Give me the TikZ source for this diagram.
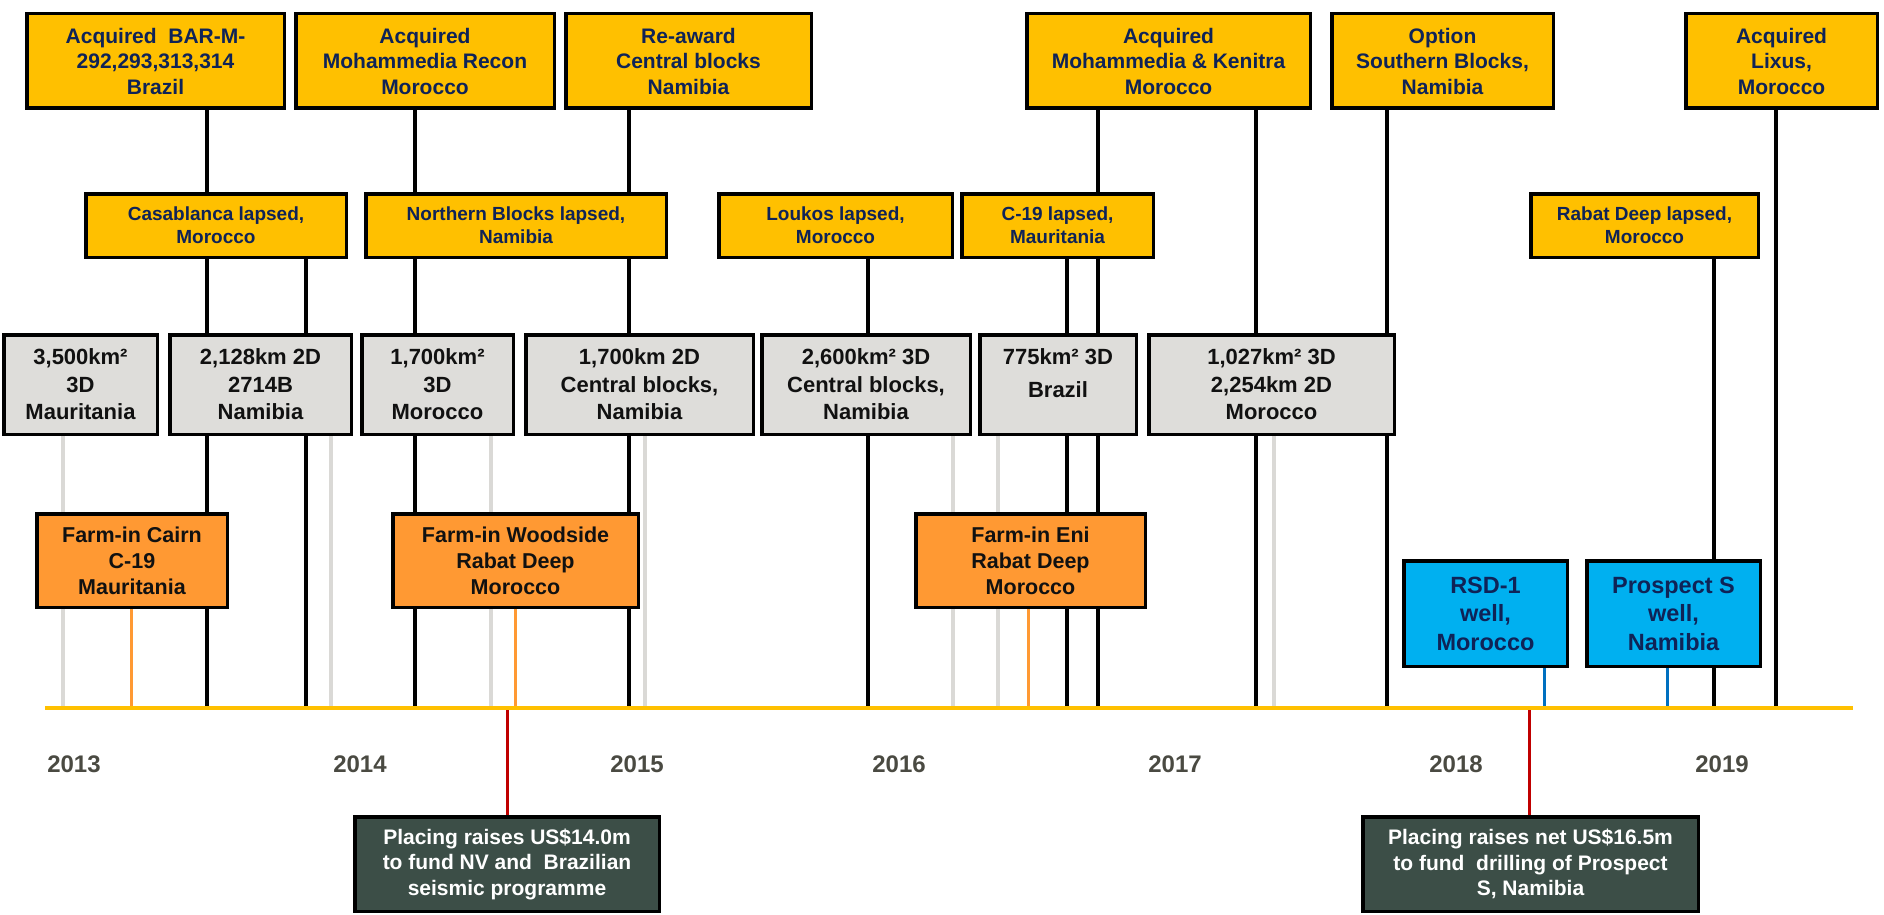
\documentclass[tikz,border=0pt]{standalone}
\usepackage{fontspec}
\setmainfont{Liberation Sans}
\definecolor{gold}{HTML}{FFC000}
\definecolor{navy}{HTML}{0F2357}
\definecolor{greyfill}{HTML}{DEDDDA}
\definecolor{orangefill}{HTML}{FF9933}
\definecolor{bluefill}{HTML}{00B0F0}
\definecolor{darkfill}{HTML}{3C4E47}
\definecolor{txtblack}{HTML}{111111}
\definecolor{lgline}{HTML}{DAD9D6}
\definecolor{orline}{HTML}{FF9933}
\definecolor{blline}{HTML}{0070C0}
\definecolor{redline}{HTML}{C00000}
\definecolor{yeargrey}{HTML}{4A4A42}
\pgfdeclarelayer{background}
\pgfsetlayers{background,main}
\newcommand\mkbox[7]{\node[#2,minimum width={#5-#3-3.5},minimum height={#6-#4-3.5}] (#1) at ({(#3+#5)/2},{(#4+#6)/2}) {#7};}
\begin{document}
\begin{tikzpicture}[x=1pt,y=-1pt,
  box/.style={draw=black,line width=3.5pt,inner sep=0pt,align=center},
  topbox/.style={box,fill=gold,text=navy,font=\bfseries\fontsize{21}{25.5}\selectfont},
  lapbox/.style={box,fill=gold,text=navy,font=\bfseries\fontsize{19}{23}\selectfont},
  greybox/.style={box,fill=greyfill,text=txtblack,font=\bfseries\fontsize{22}{27.5}\selectfont},
  orbox/.style={box,fill=orangefill,text=txtblack,font=\bfseries\fontsize{21.5}{26}\selectfont},
  bluebox/.style={box,fill=bluefill,text=navy,font=\bfseries\fontsize{23.5}{28.5}\selectfont},
  darkbox/.style={box,fill=darkfill,text=white,font=\bfseries\fontsize{21}{25.5}\selectfont},
  blkline/.style={draw=black,line width=3.2pt},
  greyline/.style={draw=lgline,line width=3.2pt},
  orangeline/.style={draw=orline,line width=3pt},
  blueline/.style={draw=blline,line width=3pt},
  redconn/.style={draw=redline,line width=3pt},
  timeline/.style={draw=gold,line width=4pt},
  yearlbl/.style={text=yeargrey,font=\bfseries\fontsize{24}{28}\selectfont,inner sep=0pt}
]
\useasboundingbox (0,0) rectangle (1884,915);

% top boxes
\mkbox{A1}{topbox}{25}{12}{286}{110}{Acquired\ \ BAR-M-\\292,293,313,314\\Brazil}
\mkbox{A2}{topbox}{294}{12}{556}{110}{Acquired\\Mohammedia Recon\\Morocco}
\mkbox{A3}{topbox}{564}{12}{813}{110}{Re-award\\Central blocks\\Namibia}
\mkbox{A4}{topbox}{1025}{12}{1312}{110}{Acquired\\Mohammedia \& Kenitra\\Morocco}
\mkbox{A5}{topbox}{1330}{12}{1555}{110}{Option\\Southern Blocks,\\Namibia}
\mkbox{A6}{topbox}{1684}{12}{1879}{110}{Acquired\\Lixus,\\Morocco}

% lapsed boxes
\mkbox{L1}{lapbox}{84}{192}{348}{259}{Casablanca lapsed,\\Morocco}
\mkbox{L2}{lapbox}{364}{192}{668}{259}{Northern Blocks lapsed,\\Namibia}
\mkbox{L3}{lapbox}{717}{192}{954}{259}{Loukos lapsed,\\Morocco}
\mkbox{L4}{lapbox}{960}{192}{1155}{259}{C-19 lapsed,\\Mauritania}
\mkbox{L5}{lapbox}{1529}{192}{1760}{259}{Rabat Deep lapsed,\\Morocco}

% seismic boxes
\mkbox{G1}{greybox}{2}{333}{159}{436}{3,500km²\\3D\\Mauritania}
\mkbox{G2}{greybox}{168}{333}{353}{436}{2,128km 2D\\2714B\\Namibia}
\mkbox{G3}{greybox}{360}{333}{515}{436}{1,700km²\\3D\\Morocco}
\mkbox{G4}{greybox}{524}{333}{755}{436}{1,700km 2D\\Central blocks,\\Namibia}
\mkbox{G5}{greybox}{760}{333}{972}{436}{2,600km² 3D\\Central blocks,\\Namibia}
\mkbox{G6}{greybox}{978}{333}{1138}{436}{}
\node[font=\bfseries\fontsize{22}{33}\selectfont,text=txtblack,align=center,inner sep=0pt] (G6t) at (1058,373) {775km² 3D\\Brazil};
\mkbox{G7}{greybox}{1147}{333}{1396}{436}{1,027km² 3D\\2,254km 2D\\Morocco}

% farm-in boxes
\mkbox{O1}{orbox}{35}{512}{229}{609}{Farm-in Cairn\\C-19\\Mauritania}
\mkbox{O2}{orbox}{391}{512}{640}{609}{Farm-in Woodside\\Rabat Deep\\Morocco}
\mkbox{O3}{orbox}{914}{512}{1147}{609}{Farm-in Eni\\Rabat Deep\\Morocco}

% wells
\mkbox{B1}{bluebox}{1402}{559}{1569}{668}{RSD-1\\well,\\Morocco}
\mkbox{B2}{bluebox}{1585}{559}{1762}{668}{Prospect S\\well,\\Namibia}

% placings
\mkbox{D1}{darkbox}{353}{815}{661}{913}{Placing raises US\$14.0m\\to fund NV and\ \ Brazilian\\seismic programme}
\mkbox{D2}{darkbox}{1361}{815}{1700}{913}{Placing raises net US\$16.5m\\to fund\ \ drilling of Prospect\\S, Namibia}

% timeline points
\coordinate (tl0) at (45,708);
\coordinate (tl1) at (1853,708);
\foreach \n/\x in {kA1/207,kL1/306,kA2/415,kA3/629,kL3/868,kL4/1067,kA4a/1098,kA4b/1256,kA5/1387,kL5/1714,kA6/1776,
  gG1/63,gG2/331,gG3/491,gG4/645,gG5/953,gG6/998,gG7/1274,oO1/131,oO2/515,oO3/1028,bB1/1544,bB2/1667,rD1/507,rD2/1529}
  {\coordinate (\n) at (\x,708);}

\begin{pgfonlayer}{background}
  % black event lines
  \draw[blkline] (A1.south -| kA1) -- (kA1);
  \draw[blkline] (L1.south -| kL1) -- (kL1);
  \draw[blkline] (A2.south -| kA2) -- (kA2);
  \draw[blkline] (A3.south -| kA3) -- (kA3);
  \draw[blkline] (L3.south -| kL3) -- (kL3);
  \draw[blkline] (L4.south -| kL4) -- (kL4);
  \draw[blkline] (A4.south -| kA4a) -- (kA4a);
  \draw[blkline] (A4.south -| kA4b) -- (kA4b);
  \draw[blkline] (A5.south -| kA5) -- (kA5);
  \draw[blkline] (L5.south -| kL5) -- (kL5);
  \draw[blkline] (A6.south -| kA6) -- (kA6);
  % seismic lines
  \draw[greyline] (G1.south -| gG1) -- (gG1);
  \draw[greyline] (G2.south -| gG2) -- (gG2);
  \draw[greyline] (G3.south -| gG3) -- (gG3);
  \draw[greyline] (G4.south -| gG4) -- (gG4);
  \draw[greyline] (G5.south -| gG5) -- (gG5);
  \draw[greyline] (G6.south -| gG6) -- (gG6);
  \draw[greyline] (G7.south -| gG7) -- (gG7);
  % farm-in lines
  \draw[orangeline] (O1.south -| oO1) -- (oO1);
  \draw[orangeline] (O2.south -| oO2) -- (oO2);
  \draw[orangeline] (O3.south -| oO3) -- (oO3);
  % well lines
  \draw[blueline] (B1.south -| bB1) -- (bB1);
  \draw[blueline] (B2.south -| bB2) -- (bB2);
  % placing lines
  \draw[redconn] (rD1) -- (D1.north -| rD1);
  \draw[redconn] (rD2) -- (D2.north -| rD2);
\end{pgfonlayer}

\draw[timeline] (tl0) -- (tl1);

% years
\node[yearlbl] (y2013) at (74,764) {2013};
\node[yearlbl] (y2014) at (360,764) {2014};
\node[yearlbl] (y2015) at (637,764) {2015};
\node[yearlbl] (y2016) at (899,764) {2016};
\node[yearlbl] (y2017) at (1175,764) {2017};
\node[yearlbl] (y2018) at (1456,764) {2018};
\node[yearlbl] (y2019) at (1722,764) {2019};
\end{tikzpicture}
\end{document}
